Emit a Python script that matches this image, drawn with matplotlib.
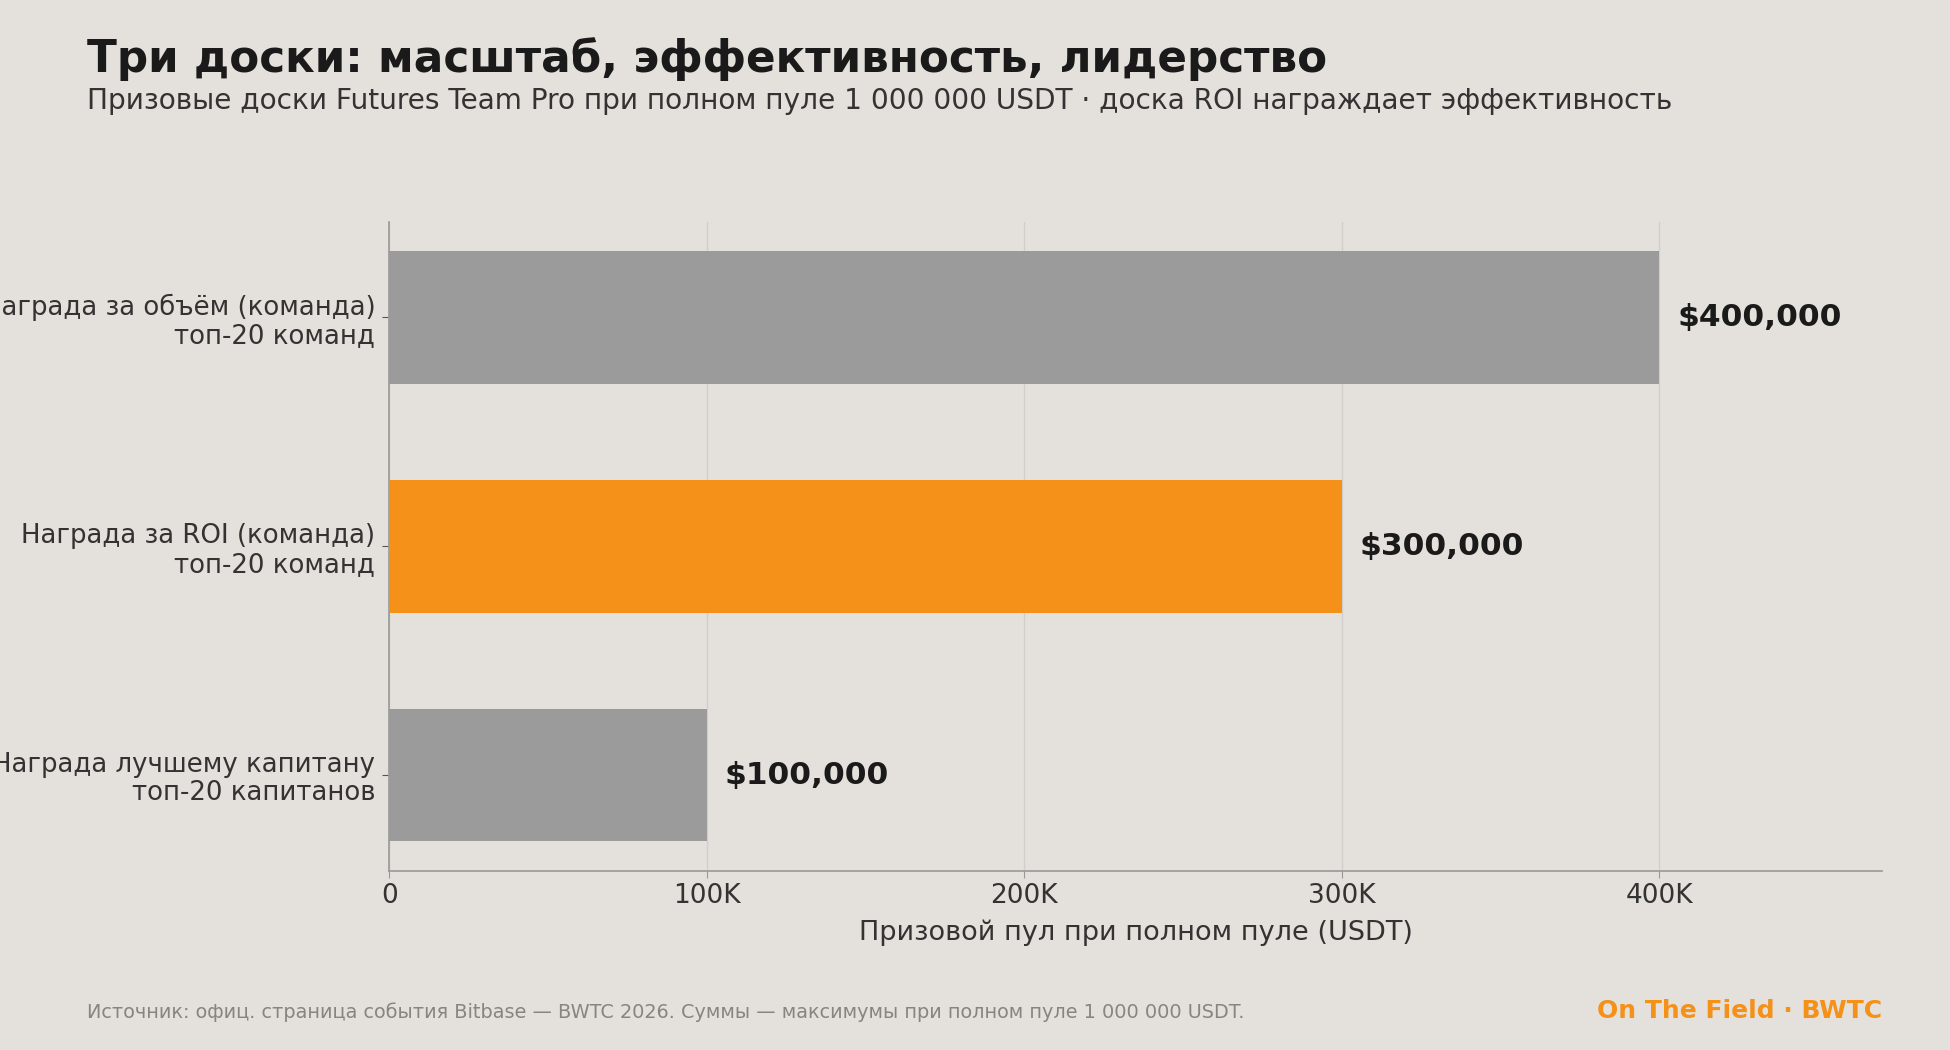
import matplotlib
matplotlib.use("Agg")
import matplotlib.pyplot as plt
from matplotlib.ticker import FuncFormatter

# data
categories = [
    "Награда лучшему капитану\nтоп-20 капитанов",
    "Награда за ROI (команда)\nтоп-20 команд",
    "Награда за объём (команда)\nтоп-20 команд",
]
values = [100000, 300000, 400000]
value_labels = ["$100,000", "$300,000", "$400,000"]
highlight = [False, True, False]

BG = "#E4E0DB"
GREY = "#9B9B9B"
ORANGE = "#F59018"
DARK = "#1A1A1A"
TEXT = "#333333"

plt.rcParams['font.family'] = ['DejaVu Sans']

fig = plt.figure(figsize=(19.5, 10.5), dpi=100, facecolor=BG)
ax = fig.add_axes([0.1996, 0.1706, 0.7654, 0.6184])
ax.set_facecolor(BG)

colors = [ORANGE if h else GREY for h in highlight]
ax.barh(range(len(values)), values, height=0.58, color=colors, zorder=3)

for i, (v, lab) in enumerate(zip(values, value_labels)):
    ax.annotate(lab, (v, i), xytext=(13, 0), textcoords="offset points",
                va="center", ha="left", fontsize=22.5, fontweight="bold", color=DARK)

ax.set_yticks(range(len(categories)))
ax.set_yticklabels(categories, fontsize=18.7, color=TEXT, linespacing=1.12)
ax.set_xlim(0, 470000)
ax.set_xticks([0, 100000, 200000, 300000, 400000])
ax.xaxis.set_major_formatter(FuncFormatter(lambda x, p: "0" if x == 0 else f"{int(x/1000)}K"))
ax.tick_params(axis="x", labelsize=19, colors=TEXT, length=5, color="#999999")
ax.tick_params(axis="y", length=5, color="#555555", pad=5)
ax.set_xlabel("Призовой пул при полном пуле (USDT)", fontsize=19.5, color=TEXT, labelpad=8)

ax.grid(axis="x", color="#D2CEC9", linewidth=1, zorder=0)
ax.grid(axis="y", visible=False)
for s in ["top", "right"]:
    ax.spines[s].set_visible(False)
ax.spines["left"].set_color("#999999")
ax.spines["bottom"].set_color("#999999")
ax.spines["left"].set_linewidth(1.2)
ax.spines["bottom"].set_linewidth(1.2)

fig.text(0.0446, 0.931, "Три доски: масштаб, эффективность, лидерство",
         fontsize=31.5, fontweight="bold", color=DARK, ha="left", va="baseline")
fig.text(0.0446, 0.896, "Призовые доски Futures Team Pro при полном пуле 1 000 000 USDT · доска ROI награждает эффективность",
         fontsize=20.15, color=TEXT, ha="left", va="baseline")

fig.text(0.0446, 0.030, "Источник: офиц. страница события Bitbase — BWTC 2026. Суммы — максимумы при полном пуле 1 000 000 USDT.",
         fontsize=13.9, color="#888580", ha="left", va="baseline")
fig.text(0.965, 0.030, "On The Field · BWTC", fontsize=18, fontweight="bold",
         color=ORANGE, ha="right", va="baseline")

fig.savefig("out.png", dpi=100, facecolor=BG)
